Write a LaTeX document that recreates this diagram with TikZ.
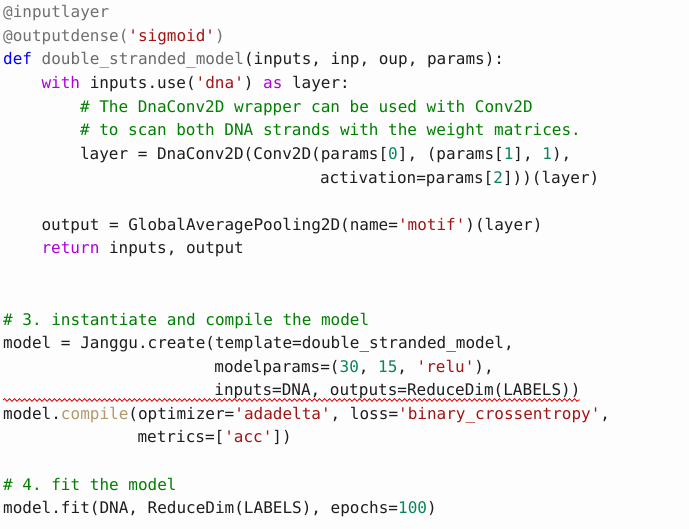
\documentclass[tikz,border=0pt]{standalone}
\usepackage{fontspec}
\usetikzlibrary{decorations.pathmorphing}
\newfontfamily\codefont{DejaVu Sans Mono}
\frenchspacing
\definecolor{kwblue}{HTML}{0000FF}
\definecolor{kwpurp}{HTML}{AF00DB}
\definecolor{strred}{HTML}{A31515}
\definecolor{cmgreen}{HTML}{008000}
\definecolor{numgreen}{HTML}{098658}
\definecolor{decgrey}{HTML}{707070}
\definecolor{fnname}{HTML}{6A6A6A}
\definecolor{mtan}{HTML}{B09A6A}
\definecolor{txt}{HTML}{1E1E1E}
\definecolor{bg}{HTML}{FDFDFD}
\newcommand{\kwb}[1]{\textcolor{kwblue}{#1}}
\newcommand{\kwp}[1]{\textcolor{kwpurp}{#1}}
\newcommand{\strg}[1]{\textcolor{strred}{#1}}
\newcommand{\cmt}[1]{\textcolor{cmgreen}{#1}}
\newcommand{\numb}[1]{\textcolor{numgreen}{#1}}
\newcommand{\decr}[1]{\textcolor{decgrey}{#1}}
\newcommand{\fnm}[1]{\textcolor{fnname}{#1}}
\newcommand{\mth}[1]{\textcolor{mtan}{#1}}
\begin{document}
\begin{tikzpicture}[x=1pt,y=-1pt,
  codeline/.style={anchor=base west,inner sep=0pt,font=\codefont\fontsize{16}{19}\selectfont\frenchspacing,text=txt}]
\fill[bg] (0,0) rectangle (689,529);
\useasboundingbox (0,0) rectangle (689,529);
\def\cw{9.6}
\node[codeline] (l1) at (3,18) {\decr{@inputlayer}};
\node[codeline] (l2) at (3,42) {\decr{@outputdense(}\strg{'sigmoid'}\decr{)}};
\node[codeline] (l3) at (3,65) {\kwb{def} \fnm{double\_stranded\_model}(inputs, inp, oup, params):};
\node[codeline] (l4) at (3+4*\cw,89) {\kwp{with} inputs.use(\strg{'dna'}) \kwp{as} layer:};
\node[codeline] (l5) at (3+8*\cw,113) {\cmt{\# The DnaConv2D wrapper can be used with Conv2D}};
\node[codeline] (l6) at (3+8*\cw,136) {\cmt{\# to scan both DNA strands with the weight matrices.}};
\node[codeline] (l7) at (3+8*\cw,160) {layer = DnaConv2D(Conv2D(params[\numb{0}], (params[\numb{1}], \numb{1}),};
\node[codeline] (l8) at (3+33*\cw,184) {activation=params[\numb{2}]))(layer)};
\node[codeline] (l10) at (3+4*\cw,231) {output = GlobalAveragePooling2D(name=\strg{'motif'})(layer)};
\node[codeline] (l11) at (3+4*\cw,254) {\kwp{return} inputs, output};
\node[codeline] (l14) at (3,326) {\cmt{\# 3. instantiate and compile the model}};
\node[codeline] (l15) at (3,349) {model = Janggu.create(template=double\_stranded\_model,};
\node[codeline] (l16) at (3+22*\cw,373) {modelparams=(\numb{30}, \numb{15}, \strg{'relu'}),};
\node[codeline] (l17) at (3+22*\cw,396) {inputs=DNA, outputs=ReduceDim(LABELS))};
\node[codeline] (l18) at (3,420) {model.\mth{compile}(optimizer=\strg{'adadelta'}, loss=\strg{'binary\_crossentropy'},};
\node[codeline] (l19) at (3+14*\cw,443) {metrics=[\strg{'acc'}])};
\node[codeline] (l21) at (3,491) {\cmt{\# 4. fit the model}};
\node[codeline] (l22) at (3,514) {model.fit(DNA, ReduceDim(LABELS), epochs=\numb{100})};
\coordinate (sqa) at (3,400);
\coordinate (sqb) at (580,400);
\draw[red!85!black,line width=0.8pt,decorate,decoration={snake,amplitude=1.3pt,segment length=5pt}] (sqa) -- (sqb);
\end{tikzpicture}
\end{document}
